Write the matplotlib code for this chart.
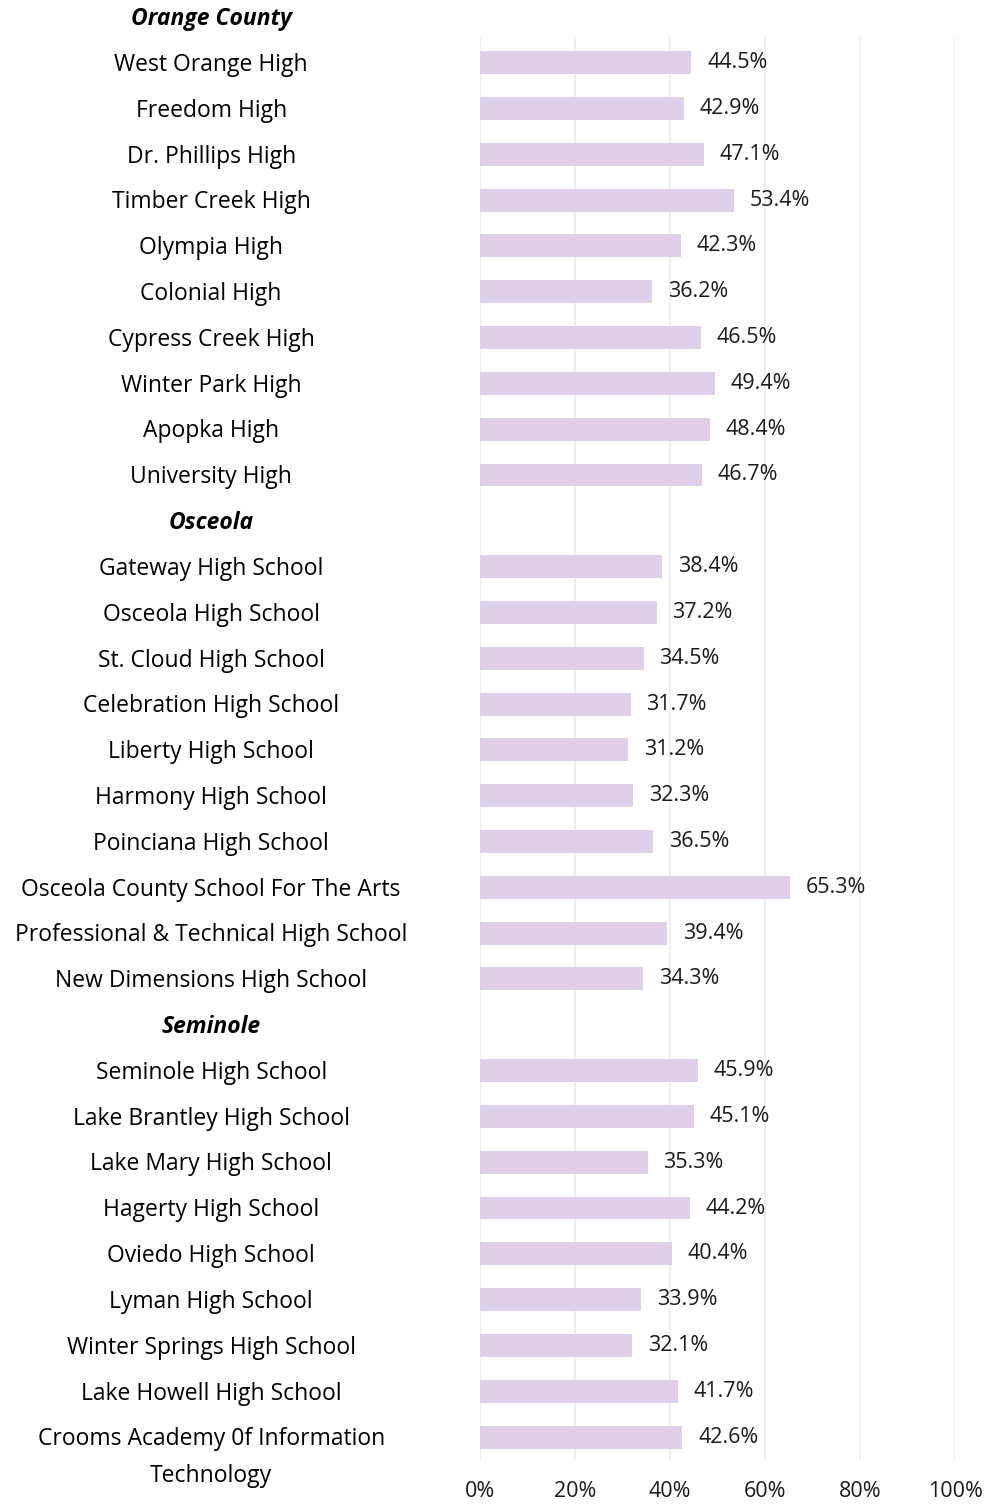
import matplotlib
matplotlib.use("Agg")
import matplotlib.pyplot as plt

plt.rcParams['font.family'] = ['Open Sans', 'DejaVu Sans']

# Row labels, top to bottom (None value = county header row)
labels = [
    "Orange County",
    "West Orange High", "Freedom High", "Dr. Phillips High", "Timber Creek High",
    "Olympia High", "Colonial High", "Cypress Creek High", "Winter Park High",
    "Apopka High", "University High",
    "Osceola",
    "Gateway High School", "Osceola High School", "St. Cloud High School",
    "Celebration High School", "Liberty High School", "Harmony High School",
    "Poinciana High School", "Osceola County School For The Arts",
    "Professional & Technical High School", "New Dimensions High School",
    "Seminole",
    "Seminole High School", "Lake Brantley High School", "Lake Mary High School",
    "Hagerty High School", "Oviedo High School", "Lyman High School",
    "Winter Springs High School", "Lake Howell High School",
    "Crooms Academy 0f Information\nTechnology",
]
values = [
    None,
    44.5, 42.9, 47.1, 53.4, 42.3, 36.2, 46.5, 49.4, 48.4, 46.7,
    None,
    38.4, 37.2, 34.5, 31.7, 31.2, 32.3, 36.5, 65.3, 39.4, 34.3,
    None,
    45.9, 45.1, 35.3, 44.2, 40.4, 33.9, 32.1, 41.7, 42.6,
]
ticks = [0, 20, 40, 60, 80, 100]

W, H = 997, 1504
fig = plt.figure(figsize=(W / 100, H / 100), dpi=100)
ax = fig.add_axes([480 / W, 1 - 1460 / H, 475 / W, (1460 - 37) / H])

bar_color = '#dfcfe8'
label_x = -56.6
fs_lab = 16.5
fs_val = 15.5
dy = 0.05
for i, (lab, v) in enumerate(zip(labels, values)):
    if v is None:
        ax.text(label_x, i + dy, lab, ha='center', va='center', fontsize=fs_lab,
                fontweight='bold', fontstyle='italic', clip_on=False)
        continue
    ax.barh(i, v, height=0.5, color=bar_color, zorder=2)
    ax.text(v + 3.3, i, f"{v:.1f}%", ha='left', va='center', fontsize=fs_val,
            color='#1a1a1a')
    for k, line in enumerate(lab.split("\n")):
        ax.text(label_x, i + dy + k * 0.79, line, ha='center', va='center',
                fontsize=fs_lab, clip_on=False)

ax.set_xlim(0, 100)
ax.set_ylim(31.5, 0.44)
ax.set_xticks(ticks)
ax.set_xticklabels([f"{t}%" for t in ticks], fontsize=fs_val, color='#1a1a1a')
ax.set_yticks([])
ax.tick_params(axis='x', length=0, pad=15)
ax.grid(axis='x', color='#ececec', linewidth=1.2, zorder=0)
for s in ax.spines.values():
    s.set_visible(False)

fig.savefig("out.png", dpi=100)
